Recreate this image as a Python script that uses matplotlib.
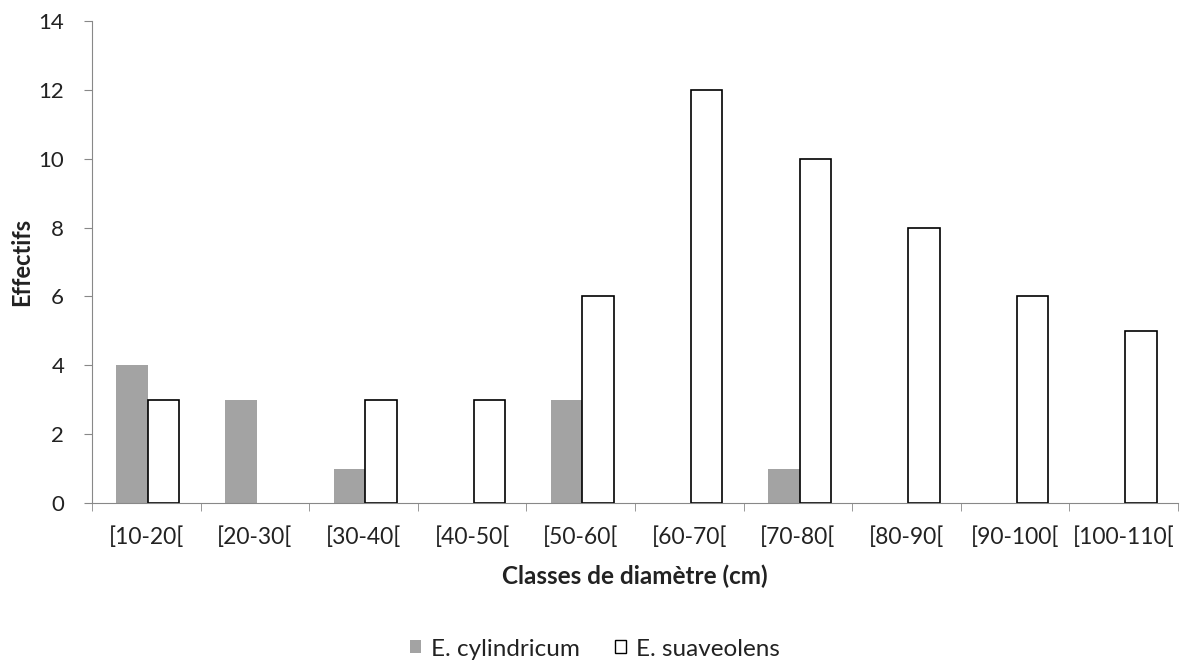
import matplotlib
matplotlib.use("Agg")
import matplotlib.pyplot as plt
import numpy as np
from matplotlib.patches import Patch

categories = ["[10-20[", "[20-30[", "[30-40[", "[40-50[", "[50-60[",
              "[60-70[", "[70-80[", "[80-90[", "[90-100[", "[100-110["]
cylindricum = [4, 3, 1, 0, 3, 0, 1, 0, 0, 0]
suaveolens = [3, 0, 3, 3, 6, 12, 10, 8, 6, 5]

plt.rcParams['font.family'] = ['Lato', 'DejaVu Sans']

fig = plt.figure(figsize=(11.83, 6.64), dpi=100)
# axes: x from 92 to 1178 px, y from 21 to 503 px
ax = fig.add_axes([92/1183, 1 - 503/664, (1178 - 92)/1183, (503 - 21)/664])

x = np.arange(len(categories))
w = 0.29
ax.bar(x - w/2 + 0.015, cylindricum, w, color='#a3a3a3', edgecolor='none', label='E. cylindricum')
lw = [1.2 if v > 0 else 0 for v in suaveolens]
ax.bar(x + w/2 + 0.015, suaveolens, w, color='white', edgecolor='black', linewidth=lw, label='E. suaveolens')

ax.set_xlim(-0.5, len(categories) - 0.5)
ax.set_ylim(0, 14)
ax.set_yticks(range(0, 15, 2))
ax.set_xticks(x)
ax.set_xticklabels(categories)
ax.set_xticks(np.arange(-0.5, len(categories), 1.0), minor=True)
ax.tick_params(axis='x', which='major', length=0, labelsize=16.5, pad=17, labelcolor='#222222')
ax.tick_params(axis='x', which='minor', length=6, color='#888888', direction='out')
ax.tick_params(axis='y', labelsize=16, length=6, color='#888888', pad=14, labelcolor='#222222')

for s in ['top', 'right']:
    ax.spines[s].set_visible(False)
ax.spines['left'].set_color('#888888')
ax.spines['bottom'].set_color('#888888')

ax.set_ylabel('Effectifs', fontsize=17, fontweight='bold', labelpad=4, color='#222222')
ax.set_xlabel('Classes de diamètre (cm)', fontsize=17.5, fontweight='bold', labelpad=12, color='#222222')

handles = [Patch(facecolor='#a3a3a3', edgecolor='none', label='E. cylindricum'),
           Patch(facecolor='white', edgecolor='black', label='E. suaveolens')]
fig.legend(handles=handles, loc='center', bbox_to_anchor=(595/1183, 1 - 649/664), ncol=2,
           frameon=False, fontsize=17.5, handlelength=0.45, handleheight=0.45,
           handletextpad=0.4, columnspacing=1.45, labelcolor='#222222', borderpad=0.1)

fig.savefig('out.png', dpi=100)
